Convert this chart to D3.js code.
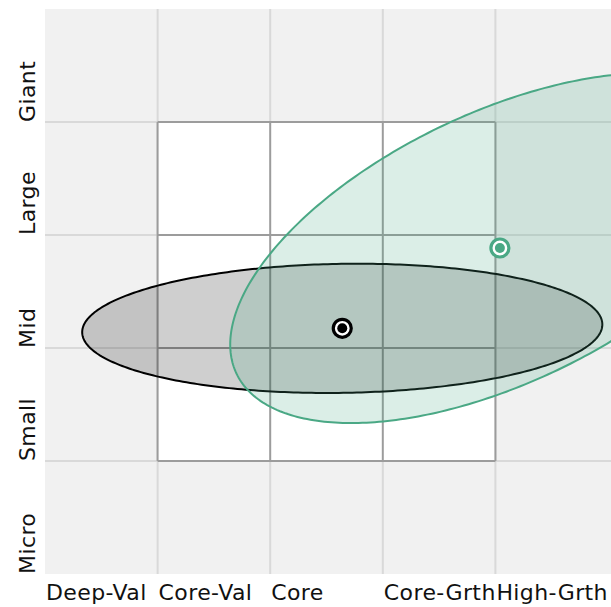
<!DOCTYPE html>
<html>
<head>
<meta charset="utf-8">
<script src="https://cdn.jsdelivr.net/npm/d3@7"></script>
<style>
  html, body { margin: 0; padding: 0; background: #ffffff; }
  svg { display: block; }
  text { font-family: "DejaVu Sans", Verdana, sans-serif; font-size: 22px; letter-spacing: 0.4px; fill: #111; }
</style>
</head>
<body>
<div id="chart"></div>
<script>
// ---- data ----
const xLabels = ["Deep-Val", "Core-Val", "Core", "Core-Grth", "High-Grth"];
const yLabels = ["Micro", "Small", "Mid", "Large", "Giant"];
const seriesNames = ["Fund", "Benchmark"];
const centroidX = [2.64, 4.04];
const centroidY = [2.174, 2.885];
const zoneRadiusX = [2.31, 2.59];   // semi-axis along zone direction
const zoneRadiusY = [0.571, 1.195]; // semi-axis across zone direction
const zoneAngle = [0.9, 25.4];      // degrees, counter-clockwise
const seriesColors = ["#000000", "#4aa885"];
const seriesFills = ["rgba(0,0,0,0.19)", "rgba(74,168,133,0.2)"];

// ---- layout ----
const W = 611, H = 607;
const x = d3.scaleLinear().domain([0, 5]).range([45, 608]);
const y = d3.scaleLinear().domain([0, 5]).range([574, 9]);

const svg = d3.select("#chart").append("svg").attr("width", W).attr("height", H);

svg.append("defs").append("clipPath").attr("id", "plotclip")
  .append("rect").attr("x", x(0)).attr("y", y(5)).attr("width", W - x(0)).attr("height", y(0) - y(5));

// background
svg.append("rect").attr("x", x(0)).attr("y", y(5)).attr("width", W - x(0)).attr("height", y(0) - y(5))
  .attr("fill", "#f1f1f1");

// light full grid
const gridVals = [1, 2, 3, 4];
svg.append("g").selectAll("line.v").data(gridVals).join("line")
  .attr("x1", d => x(d)).attr("x2", d => x(d)).attr("y1", y(5)).attr("y2", y(0))
  .attr("stroke", "#d9d9d9").attr("stroke-width", 2);
svg.append("g").selectAll("line.h").data(gridVals).join("line")
  .attr("y1", d => y(d)).attr("y2", d => y(d)).attr("x1", x(0)).attr("x2", W)
  .attr("stroke", "#d9d9d9").attr("stroke-width", 2);

// white 3x3 style box
svg.append("rect").attr("x", x(1)).attr("y", y(4)).attr("width", x(4) - x(1)).attr("height", y(1) - y(4))
  .attr("fill", "#ffffff");
const boxG = svg.append("g");
boxG.selectAll("line.bv").data(gridVals).join("line")
  .attr("x1", d => x(d)).attr("x2", d => x(d)).attr("y1", y(4)).attr("y2", y(1))
  .attr("stroke", "#9c9c9c").attr("stroke-width", 2);
boxG.selectAll("line.bh").data(gridVals).join("line")
  .attr("y1", d => y(d)).attr("y2", d => y(d)).attr("x1", x(1)).attr("x2", x(4))
  .attr("stroke", "#9c9c9c").attr("stroke-width", 2);

// ownership zones
const line = d3.line().x(d => x(d[0])).y(d => y(d[1])).curve(d3.curveLinearClosed);
function ellipsePts(i) {
  const a = zoneRadiusX[i], b = zoneRadiusY[i], th = zoneAngle[i] * Math.PI / 180;
  const pts = [];
  for (let k = 0; k < 360; k++) {
    const t = k * Math.PI / 180;
    const ux = a * Math.cos(t), vy = b * Math.sin(t);
    pts.push([centroidX[i] + ux * Math.cos(th) - vy * Math.sin(th),
              centroidY[i] + ux * Math.sin(th) + vy * Math.cos(th)]);
  }
  return pts;
}
const zoneG = svg.append("g").attr("clip-path", "url(#plotclip)");
seriesNames.forEach((n, i) => {
  zoneG.append("path").attr("d", line(ellipsePts(i)))
    .attr("fill", seriesFills[i]).attr("stroke", seriesColors[i]).attr("stroke-width", 2);
});

// centroids
seriesNames.forEach((n, i) => {
  const g = svg.append("g").attr("transform", `translate(${x(centroidX[i])},${y(centroidY[i])})`);
  g.append("circle").attr("r", 9).attr("fill", "#ffffff").attr("stroke", seriesColors[i]).attr("stroke-width", 3.2);
  g.append("circle").attr("r", 5).attr("fill", seriesColors[i]);
});

// x labels
svg.append("g").selectAll("text").data(xLabels).join("text")
  .attr("x", (d, i) => x(i) + 1).attr("y", 600)
  .attr("text-anchor", "start").text(d => d);

// y labels
svg.append("g").selectAll("text").data(yLabels).join("text")
  .attr("transform", (d, i) => `translate(35,${y(i)}) rotate(-90)`)
  .attr("text-anchor", "start").text(d => d);
</script>
</body>
</html>
